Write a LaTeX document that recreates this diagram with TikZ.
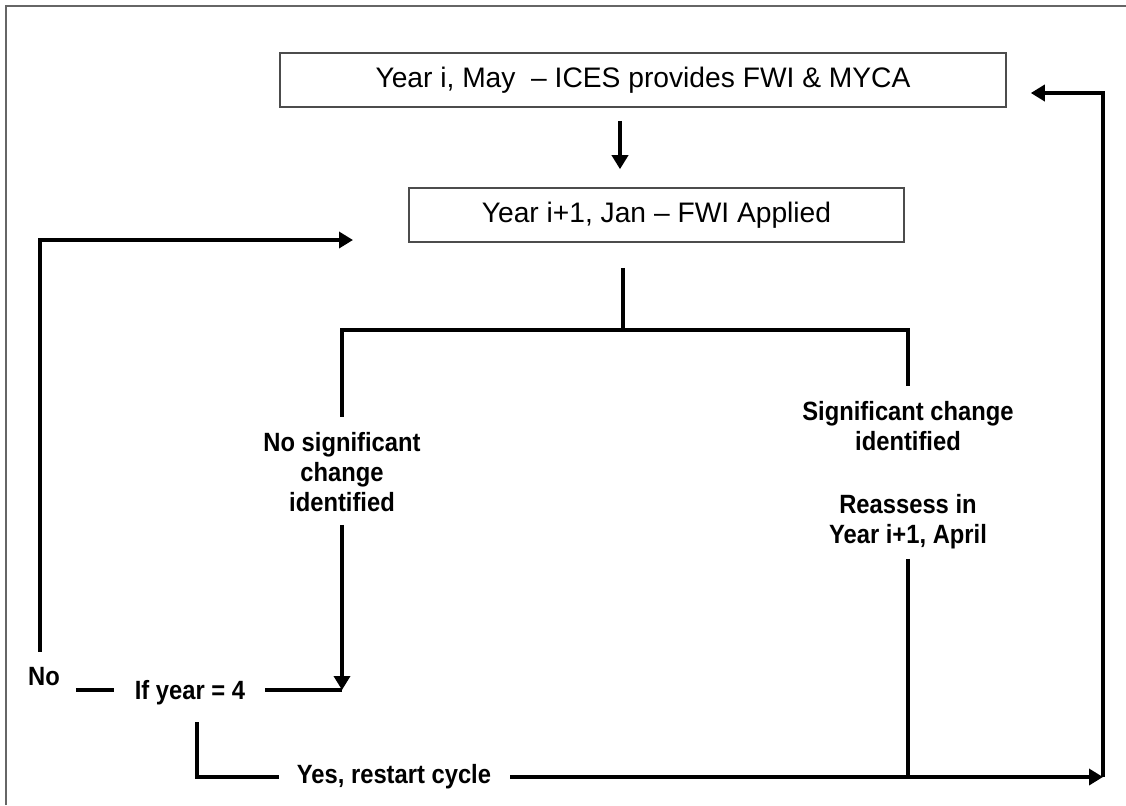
\documentclass[tikz,border=0pt]{standalone}
\usepackage{fontspec}
\setmainfont{Liberation Sans}
\newfontfamily\outcomefont{Liberation Sans}[FakeStretch=0.9]
\usetikzlibrary{arrows.meta,positioning}

\begin{document}
\begin{tikzpicture}[x=0.5pt,y=-0.5pt,>={Triangle[length=7pt,width=8pt]},
  yearbox/.style={draw=black!70,line width=0.8pt,minimum height=27pt,inner sep=0pt,font=\fontsize{14.1}{16}\selectfont},
  outcome/.style={align=center,font=\outcomefont\bfseries\fontsize{13.2}{15}\selectfont},
  flow/.style={line width=2pt}]
  \useasboundingbox (0,0) rectangle (1126,805);
  \draw[black!60,line width=0.6pt] (6,805) -- (6,6) -- (1126,6);

  % the two yearly steps
  \node[yearbox,minimum width=363pt] (may) at (643,80) {Year i, May~ -- ICES provides FWI \& MYCA};
  \node[yearbox,minimum width=247.5pt] (jan) at (656.5,215) {Year i+1, Jan -- FWI Applied};

  % outcomes
  \node[outcome] (nochange) at (342,472) {No significant\\change\\identified};
  \node[outcome] (change) at (908,475) {Significant change\\identified\\[16.5pt]Reassess in\\Year i+1, April};
  \node[outcome] (no) at (44,677) {No};
  \node[outcome] (ifyear) at (190,693) {If year = 4};
  \node[outcome] (yes) at (394,777) {Yes, restart cycle};

  \coordinate (split) at (623,330);
  \coordinate (ahead) at (620,0);
  \coordinate (nofour) at (342,690);
  \coordinate (again) at (353,240);
  \coordinate (corner) at (1103,777);

  \draw[->,flow,shorten <=6.5pt,shorten >=9pt] (may.south -| ahead) -- (jan.north -| ahead);
  \draw[flow,shorten <=12.5pt] (jan.south -| split) -- (split);
  \draw[flow,shorten >=4pt] (split) -| (nochange.north);
  \draw[flow,shorten >=4pt] (split) -| (change.north);
  \draw[->,flow,shorten <=3pt] (nochange.south) -- (nofour);
  \draw[flow,shorten <=6.5pt] (ifyear.east |- nofour) -- (nofour);
  \draw[flow,shorten <=4.5pt,shorten >=7pt] (no.east |- nofour) -- (ifyear.west |- nofour);
  \draw[->,flow,shorten <=4.5pt] ([xshift=-2pt]no.north) |- (again);
  \draw[flow,shorten <=5pt,shorten >=5.5pt] ([xshift=3.5pt]ifyear.south) |- (yes.west);
  \draw[->,flow,shorten <=6pt] (yes.east |- corner) -- (corner);
  \draw[flow,shorten <=1.5pt] (change.south) -- (change.south |- corner);
  \draw[->,flow,shorten >=12pt] (corner) |- ([yshift=-6.5pt]may.east);
\end{tikzpicture}
\end{document}
